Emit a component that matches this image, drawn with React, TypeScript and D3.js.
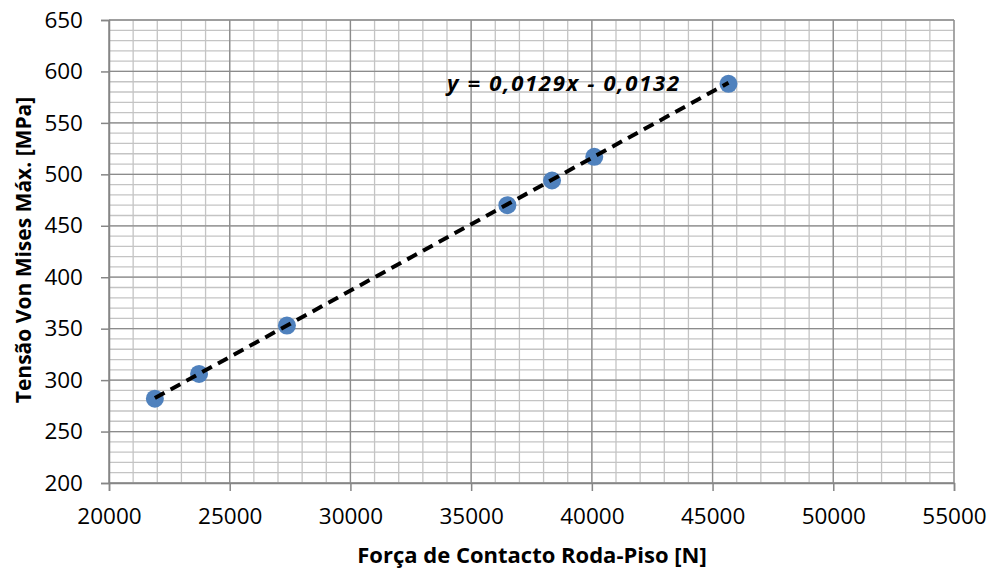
import React, { useEffect, useRef } from "react";
import * as d3 from "d3";

// values
const forces = [21900, 23730, 27370, 36500, 38350, 40100, 45660];
const stresses = [282, 306, 353, 470, 494, 517, 588];
const xTicks = [20000, 25000, 30000, 35000, 40000, 45000, 50000, 55000];
const yTicks = [200, 250, 300, 350, 400, 450, 500, 550, 600, 650];
const slope = 0.0129;
const intercept = -0.0132;
const equationLabel = "y = 0,0129x - 0,0132";
const xTitle = "Força de Contacto Roda-Piso [N]";
const yTitle = "Tensão Von Mises Máx. [MPa]";

const App = () => {
  const svgRef = useRef<SVGSVGElement>(null);

  useEffect(() => {
    const width = 992;
    const height = 572;
    const margin = { top: 20, right: 38, bottom: 89, left: 109 };
    const font = "'Open Sans', sans-serif";

    const svg = d3.select(svgRef.current);
    svg.selectAll("*").remove();
    svg.attr("width", width).attr("height", height);

    svg.append("rect").attr("width", width).attr("height", height).attr("fill", "#fff");

    const x = d3.scaleLinear().domain([20000, 55000]).range([margin.left, width - margin.right]);
    const y = d3.scaleLinear().domain([200, 650]).range([height - margin.bottom, margin.top]);

    // minor grid
    const g = svg.append("g");
    g.selectAll(".vminor")
      .data(d3.range(20000, 55001, 1000))
      .enter()
      .append("line")
      .attr("x1", d => x(d)).attr("x2", d => x(d))
      .attr("y1", y(200)).attr("y2", y(650))
      .attr("stroke", "#c4c4c4").attr("stroke-width", 1.3);
    g.selectAll(".hminor")
      .data(d3.range(200, 651, 10))
      .enter()
      .append("line")
      .attr("x1", x(20000)).attr("x2", x(55000))
      .attr("y1", d => y(d)).attr("y2", d => y(d))
      .attr("stroke", "#c4c4c4").attr("stroke-width", 1.3);

    // major grid
    g.selectAll(".vmajor")
      .data(xTicks)
      .enter()
      .append("line")
      .attr("x1", d => x(d)).attr("x2", d => x(d))
      .attr("y1", y(200)).attr("y2", y(650))
      .attr("stroke", "#8c8c8c").attr("stroke-width", 1.3);
    g.selectAll(".hmajor")
      .data(yTicks)
      .enter()
      .append("line")
      .attr("x1", x(20000)).attr("x2", x(55000))
      .attr("y1", d => y(d)).attr("y2", d => y(d))
      .attr("stroke", "#8c8c8c").attr("stroke-width", 1.3);

    // axes
    const xAxis = d3.axisBottom(x).tickValues(xTicks).tickSize(8).tickPadding(17).tickFormat(d3.format("d"));
    const yAxis = d3.axisLeft(y).tickValues(yTicks).tickSize(8).tickPadding(18).tickFormat(d3.format("d"));

    const gx = svg.append("g").attr("transform", `translate(0,${y(200)})`).call(xAxis);
    const gy = svg.append("g").attr("transform", `translate(${x(20000)},0)`).call(yAxis);
    [gx, gy].forEach(a => {
      a.select(".domain").attr("stroke", "#868686").attr("stroke-width", 1.5);
      a.selectAll(".tick line").attr("stroke", "#868686").attr("stroke-width", 1.5);
      a.selectAll(".tick text")
        .attr("fill", "#000")
        .style("font-family", font)
        .style("font-size", "22.5px");
    });

    // trendline
    const xs = d3.extent(forces) as [number, number];
    const trend = () =>
      svg.append("line")
        .attr("x1", x(xs[0])).attr("y1", y(slope * xs[0] + intercept))
        .attr("x2", x(xs[1])).attr("y2", y(slope * xs[1] + intercept))
        .attr("stroke", "#000")
        .attr("stroke-width", 4)
        .attr("stroke-dasharray", "11 7");

    // points
    svg.selectAll(".pt")
      .data(forces)
      .enter()
      .append("circle")
      .attr("cx", d => x(d))
      .attr("cy", (d, i) => y(stresses[i]))
      .attr("r", 9)
      .attr("fill", "#4f81bd");

    trend();

    // equation
    svg.append("text")
      .attr("x", 447)
      .attr("y", 91)
      .attr("font-family", font)
      .attr("font-size", 22)
      .attr("font-weight", "bold")
      .attr("font-style", "italic")
      .attr("textLength", 232)
      .text(equationLabel);

    // axis titles
    svg.append("text")
      .attr("x", 532)
      .attr("y", 563)
      .attr("text-anchor", "middle")
      .attr("font-family", font)
      .attr("font-size", 22)
      .attr("font-weight", "bold")
      .text(xTitle);

    svg.append("text")
      .attr("transform", "rotate(-90)")
      .attr("x", -250)
      .attr("y", 31)
      .attr("text-anchor", "middle")
      .attr("font-family", font)
      .attr("font-size", 21)
      .attr("font-weight", "bold")
      .text(yTitle);
  }, []);

  return <svg ref={svgRef} style={{ position: "absolute", left: 0, top: 0 }}></svg>;
};

export default App;
